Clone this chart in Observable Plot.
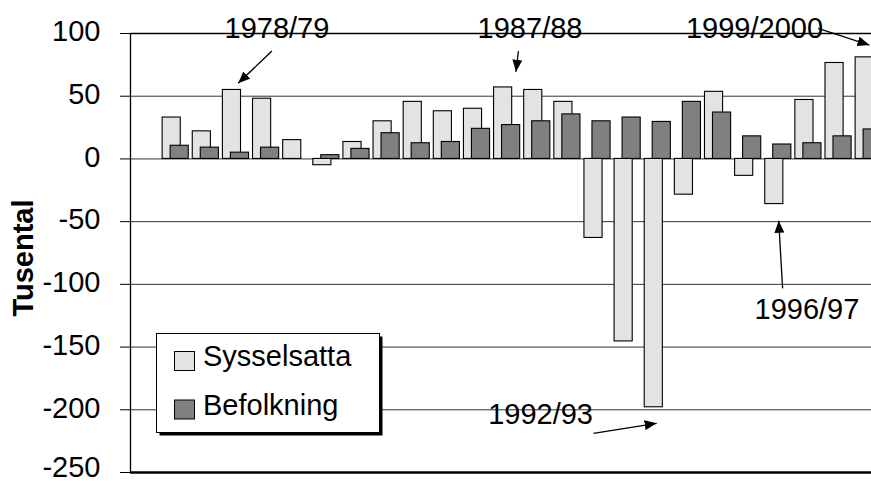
<!DOCTYPE html>
<html>
<head>
<meta charset="utf-8">
<script src="https://cdn.jsdelivr.net/npm/d3@7"></script>
<script src="https://cdn.jsdelivr.net/npm/@observablehq/plot@0.6"></script>
<style>
  html, body { margin: 0; padding: 0; background: white; overflow: hidden; }
</style>
</head>
<body>
<div id="chart"></div>
<script>
// ---- data ----
const years = ["1976/77","1977/78","1978/79","1979/80","1980/81","1981/82","1982/83","1983/84",
  "1984/85","1985/86","1986/87","1987/88","1988/89","1989/90","1990/91","1991/92","1992/93",
  "1993/94","1994/95","1995/96","1996/97","1997/98","1998/99","1999/2000"];
const sysselsatta = [33, 22, 55, 48, 15, -5, 13.5, 30, 45.5, 38, 40, 57, 55, 45.5,
  -63, -145.5, -198, -28.5, 53.5, -13.5, -36, 47, 76.5, 81];
const befolkning = [10.5, 9, 5, 9, null, 3, 8, 20.5, 12.5, 13.5, 24, 27, 30, 35.5,
  30, 33, 29.5, 45.5, 37, 18, 11.5, 12.5, 18, 23.5];
const seriesNames = ["Sysselsatta", "Befolkning"];
const yTicks = [100, 50, 0, -50, -100, -150, -200, -250];
const gridValues = [50, 0, -50, -100, -150, -200];
const yLabel = "Tusental";

// annotations (labels with arrows)
const annotations = [
  {label: "1978/79",   x: 1979.86, y: 104.2},
  {label: "1987/88",   x: 1988.26, y: 104.2},
  {label: "1999/2000", x: 1995.71, y: 104.2},
  {label: "1992/93",   x: 1988.61, y: -204.1},
  {label: "1996/97",   x: 1997.45, y: -120.4}
];
const arrows = [
  {x1: 1979.71, y1: 85.6,   x2: 1978.59, y2: 59.9},
  {x1: 1987.89, y1: 85.6,   x2: 1987.81, y2: 69.1},
  {x1: 1997.84, y1: 103.7,  x2: 1999.54, y2: 90.4},
  {x1: 1990.38, y1: -219.2, x2: 1992.48, y2: -211.2},
  {x1: 1996.66, y1: -103.6, x2: 1996.53, y2: -49.7}
];

// ---- table ----
const rowsS = years.map((y, i) => ({start: parseInt(y), value: sysselsatta[i]})).filter(d => d.value != null);
const rowsB = years.map((y, i) => ({start: parseInt(y), value: befolkning[i]})).filter(d => d.value != null);

const FONT = "'Liberation Sans', Arial, Helvetica, sans-serif";
const FS = 29;
const LIGHT = "#e3e3e3", DARK = "#808080";
const step = 30.13;
const x0 = 130;
const lastTick = yTicks[yTicks.length - 1];

const chart = Plot.plot({
  width: 871,
  height: 481,
  marginLeft: 130,
  marginRight: 0,
  marginTop: 33,
  marginBottom: 9,
  style: {fontFamily: FONT, fontSize: FS + "px", color: "black", background: "white", overflow: "visible"},
  x: {type: "linear", domain: [1975, 2001], range: [x0, x0 + 26 * step], axis: null},
  y: {domain: [-250, 100], ticks: yTicks, tickSize: 10, tickPadding: 20, tickFormat: () => "", label: null},
  marks: [
    Plot.ruleY(gridValues, {stroke: "#333", strokeWidth: 1}),
    Plot.ruleY([100], {stroke: "black", strokeWidth: 1.3}),
    Plot.rect(rowsS, {x1: "start", x2: d => d.start + 1, y1: 0, y2: "value",
      fill: LIGHT, stroke: "black", strokeWidth: 1.1, insetLeft: 2, insetRight: 10}),
    Plot.rect(rowsB, {x1: "start", x2: d => d.start + 1, y1: 0, y2: "value",
      fill: DARK, stroke: "black", strokeWidth: 1.1, insetLeft: 10, insetRight: 2}),
    Plot.ruleY([-250], {stroke: "black", strokeWidth: 2.5}),
    Plot.ruleX([1975], {y1: -250, y2: 100, stroke: "black", strokeWidth: 1.3}),
    // y tick labels (hyphen-minus, nudged like the reference)
    Plot.text(yTicks.filter(d => d !== lastTick), {y: d => d, text: d => String(d), frameAnchor: "left", textAnchor: "end",
      dx: -30, dy: -1.5, fontSize: FS, fill: "black"}),
    Plot.text([lastTick], {y: d => d, text: d => String(d), frameAnchor: "left", textAnchor: "end",
      dx: -30, dy: -5, fontSize: FS, fill: "black"}),
    Plot.text(annotations, {x: "x", y: "y", text: "label", fontSize: FS, fill: "black", textAnchor: "middle"}),
    Plot.text([yLabel], {text: d => d, frameAnchor: "left", textAnchor: "middle", dx: -107, dy: 5, rotate: -90,
      fontSize: FS, fontWeight: "bold", fill: "black"})
  ]
});

document.getElementById("chart").appendChild(chart);

// arrows through the plot's scales
const sx = chart.scale("x"), sy = chart.scale("y");
const svg = d3.select(chart);
svg.append("defs").append("marker")
  .attr("id", "ah").attr("viewBox", "0 0 12 10").attr("refX", 12).attr("refY", 5)
  .attr("markerWidth", 12).attr("markerHeight", 10).attr("markerUnits", "userSpaceOnUse")
  .attr("orient", "auto")
  .append("path").attr("d", "M0,0L12,5L0,10z").attr("fill", "black");
svg.append("g").selectAll("line").data(arrows).join("line")
  .attr("x1", d => sx.apply(d.x1)).attr("y1", d => sy.apply(d.y1))
  .attr("x2", d => sx.apply(d.x2)).attr("y2", d => sy.apply(d.y2))
  .attr("stroke", "black").attr("stroke-width", 1.3).attr("marker-end", "url(#ah)");

// legend (inside plot area)
const lg = svg.append("g").attr("font-family", FONT).attr("font-size", FS).attr("text-anchor", "start");
lg.append("rect").attr("x", 159.5).attr("y", 336.5).attr("width", 223).attr("height", 99).attr("fill", "black");
lg.append("rect").attr("x", 156.5).attr("y", 333.5).attr("width", 223).attr("height", 99)
  .attr("fill", "white").attr("stroke", "black").attr("stroke-width", 1);
const fills = [LIGHT, DARK];
seriesNames.forEach((name, i) => {
  const yy = 351.5 + i * 48.5;
  lg.append("rect").attr("x", 174.5).attr("y", yy).attr("width", 20).attr("height", 19)
    .attr("fill", fills[i]).attr("stroke", "black").attr("stroke-width", 1);
  lg.append("text").attr("x", 203).attr("y", yy + 14.5).attr("fill", "black")
    .attr("text-anchor", "start").text(name);
});
</script>
</body>
</html>
